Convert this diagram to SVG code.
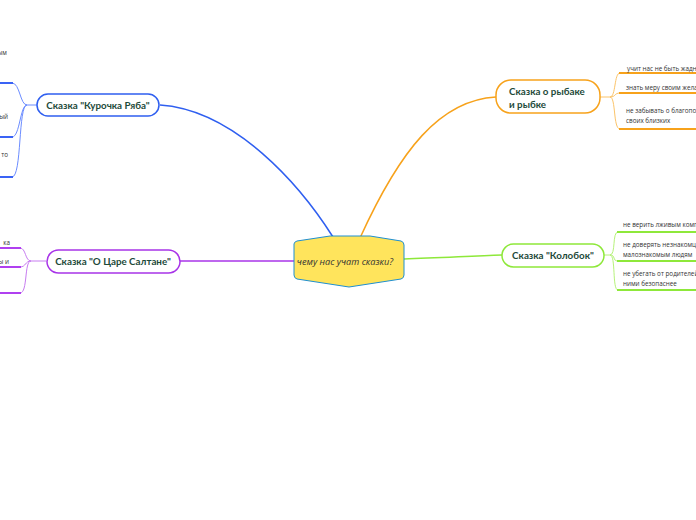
<svg xmlns="http://www.w3.org/2000/svg" width="696" height="520" viewBox="0 0 696 520">
<style>
.node{fill:#fff;stroke-width:1.5}
.lbl{font-family:Lato,"Open Sans",sans-serif;font-weight:bold;font-size:9.8px;fill:#1d4a3a}
.leaf{font-family:"Open Sans","Noto Sans",sans-serif;font-size:6.3px;fill:#333}
.c{fill:none}
</style>
<rect width="696" height="520" fill="#fff"/>
<g id="connectors">
  <path class="c" d="M160,105 C235,110 300,185 333,237" stroke="#2f5ff0" stroke-width="1.5"/>
  <path class="c" d="M360,238 C400,150 440,100 496,97" stroke="#f7a21b" stroke-width="1.5"/>
  <path class="c" d="M404,259 C440,258 470,256 502,255" stroke="#8ee83a" stroke-width="1.5"/>
  <path class="c" d="M294,261 L180,261" stroke="#a834e8" stroke-width="1.5"/>
  <!-- Kurochka leaves -->
  <g stroke="#6b8cff" stroke-width="1" class="c">
    <path d="M37,105 H27 C20,105 20,83 12,83"/>
    <path d="M27,105 C20,105 20,137 12,137"/>
    <path d="M27,105 C18,105 22,177 12,177"/>
  </g>
  <g stroke="#3a63f5" stroke-width="2" class="c">
    <path d="M0,83 H13"/><path d="M0,137 H13"/><path d="M0,177 H13"/>
  </g>
  <!-- Saltan leaves -->
  <g stroke="#c77cf0" stroke-width="1" class="c">
    <path d="M46,261 H31 C25,261 26,248 20,248"/>
    <path d="M31,261 C25,261 26,267 20,267"/>
    <path d="M31,261 C24,261 28,293 20,293"/>
  </g>
  <g stroke="#b040f0" stroke-width="2" class="c">
    <path d="M0,248 H21"/><path d="M0,267 H21"/><path d="M0,293 H21"/>
  </g>
  <!-- Fish leaves -->
  <g stroke="#fbc46a" stroke-width="1" class="c">
    <path d="M600,97 H610 C616,97 614,73 620,73"/>
    <path d="M610,97 C616,97 614,93 620,93"/>
    <path d="M610,97 C616,97 613,129 620,129"/>
  </g>
  <g stroke="#f7a21b" stroke-width="2" class="c">
    <path d="M619,73 H696"/><path d="M619,93 H696"/><path d="M619,129 H696"/>
  </g>
  <!-- Kolobok leaves -->
  <g stroke="#b6f27a" stroke-width="1" class="c">
    <path d="M604,255 H610 C616,255 612,232 618,232"/>
    <path d="M610,255 C616,255 612,261 618,261"/>
    <path d="M610,255 C616,255 612,290 618,290"/>
  </g>
  <g stroke="#8ee83a" stroke-width="2" class="c">
    <path d="M617,232 H696"/><path d="M617,261 H696"/><path d="M617,290 H696"/>
  </g>
</g>
<g id="center">
  <path d="M294,244 Q294,242 297,241 L330,236 L370,236 L401,241 Q404,242 404,245 L404,275 Q404,278 401,279 L349,287 L297,279 Q294,278 294,275 Z" fill="#ffe45c" stroke="#1f8fd0" stroke-width="1"/>
  <text x="345" y="265" text-anchor="middle" font-family="'Open Sans','Noto Sans',sans-serif" font-style="italic" font-size="9.2" fill="#333">чему нас учат  сказки?</text>
</g>
<g id="kurochka">
  <rect class="node" x="37" y="94" width="122" height="22" rx="11" stroke="#2f5ff0"/>
  <text class="lbl" x="98" y="108.5" text-anchor="middle">Сказка "Курочка Ряба"</text>
  <text class="leaf" x="7" y="55" text-anchor="end">ым</text>
  <text class="leaf" x="8" y="119" text-anchor="end">ый</text>
  <text class="leaf" x="8" y="157" text-anchor="end">то</text>
</g>
<g id="saltan">
  <rect class="node" x="47" y="250" width="133" height="23" rx="11.5" stroke="#a834e8"/>
  <text class="lbl" x="113" y="264.5" text-anchor="middle">Сказка "О Царе  Салтане"</text>
  <text class="leaf" x="10" y="245" text-anchor="end">ка</text>
  <text class="leaf" x="9" y="264" text-anchor="end">ы и</text>
</g>
<g id="fish">
  <rect class="node" x="496" y="80" width="104" height="33" rx="15" stroke="#f7a21b"/>
  <text class="lbl" x="509" y="95">Сказка о рыбаке</text>
  <text class="lbl" x="509" y="107.5">и рыбке</text>
  <text class="leaf" x="627" y="71">учит нас не быть жадными</text>
  <text class="leaf" x="626" y="90">знать меру своим желаниям</text>
  <text class="leaf" x="626" y="113">не забывать о благополучии</text>
  <text class="leaf" x="626" y="123">своих близких</text>
</g>
<g id="kolobok">
  <rect class="node" x="502" y="244" width="102" height="23" rx="11.5" stroke="#8ee83a"/>
  <text class="lbl" x="553" y="258.5" text-anchor="middle">Сказка "Колобок"</text>
  <text class="leaf" x="623" y="227">не верить лживым комплиментам</text>
  <text class="leaf" x="623" y="247">не доверять незнакомцам и</text>
  <text class="leaf" x="623" y="257">малознакомым людям</text>
  <text class="leaf" x="623" y="276">не убегать от родителей, с</text>
  <text class="leaf" x="623" y="286">ними безопаснее</text>
</g>
</svg>
